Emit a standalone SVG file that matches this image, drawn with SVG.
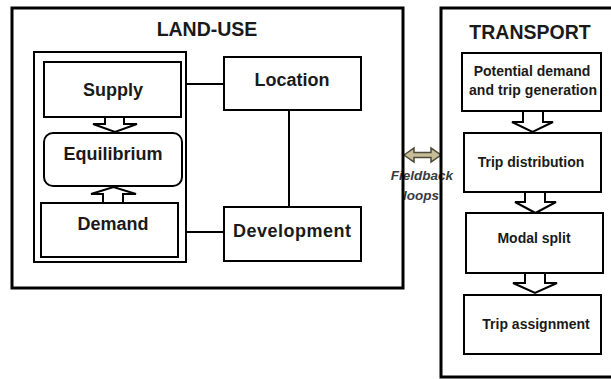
<svg xmlns="http://www.w3.org/2000/svg" width="611" height="379" viewBox="0 0 611 379">
<style>
text{font-family:"Liberation Sans",Arial,sans-serif;font-weight:bold;fill:#1a1a1a;text-anchor:middle}
.frame{fill:none;stroke:#000;stroke-width:3}
.box{fill:#fff;stroke:#000;stroke-width:2}
.line{fill:none;stroke:#000;stroke-width:2}
.barrow{fill:#fff;stroke:#000;stroke-width:2;stroke-linejoin:miter}
.title{font-size:19.5px}
.lbl{font-size:18px}
.tl{font-size:14px}
.fb{font-size:13.5px;font-style:italic;fill:#3a3a3a}
</style>
<rect x="0" y="0" width="611" height="379" fill="#fff"/>
<g id="feedback-label">
<text class="fb" x="422" y="180">Fieldback</text>
<text class="fb" x="421" y="200">loops</text>
</g>
<g id="connectors">
<line class="line" x1="186" y1="84" x2="224" y2="84"/>
<line class="line" x1="186" y1="232" x2="224" y2="232"/>
<line class="line" x1="289" y1="110" x2="289" y2="207"/>
<polygon class="barrow" points="105,117 105,124 93,124 115,132 137,124 124,124 124,117"/>
<polygon class="barrow" points="103,203 103,194 91,194 113.5,187 136,194 123,194 123,203"/>
<polygon class="barrow" points="523,111 523,122 512,122 532.5,132 553,122 543,122 543,111"/>
<polygon class="barrow" points="525,192 525,202 515,202 535.5,213 556,202 545,202 545,192"/>
<polygon class="barrow" points="525,273 525,283 513,283 535,293 557,283 545,283 545,273"/>
<polygon points="404,155 414,148 414,152.5 431,152.5 431,148 441,155 431,162 431,157.5 414,157.5 414,162" fill="#c4bd97" stroke="#4d4a38" stroke-width="1.5"/>
</g>
<g id="land-use">
<rect class="frame" x="12" y="8" width="391" height="280"/>
<text class="title" x="207" y="36">LAND-USE</text>
</g>
<g id="market">
<rect class="line" x="34" y="52" width="152" height="210"/>
</g>
<g id="supply">
<rect class="box" x="44" y="62" width="137" height="55"/>
<text class="lbl" x="113" y="96">Supply</text>
</g>
<g id="equilibrium">
<rect class="box" x="44" y="133" width="138" height="53" rx="9"/>
<text class="lbl" x="113" y="160">Equilibrium</text>
</g>
<g id="demand">
<rect class="box" x="41" y="203" width="137" height="54"/>
<text class="lbl" x="113" y="230">Demand</text>
</g>
<g id="location">
<rect class="box" x="224" y="57" width="137" height="53"/>
<text class="lbl" x="292" y="86">Location</text>
</g>
<g id="development">
<rect class="box" x="224" y="207" width="137" height="54"/>
<text class="lbl" x="292" y="237" textLength="118">Development</text>
</g>
<g id="transport">
<rect class="frame" x="441" y="8" width="173" height="369"/>
<text class="title" x="530" y="39">TRANSPORT</text>
</g>
<g id="trip-generation">
<rect class="box" x="462" y="53" width="139" height="58"/>
<text class="tl" x="532" y="76">Potential demand</text>
<text class="tl" x="533" y="95" textLength="128">and trip generation</text>
</g>
<g id="trip-distribution">
<rect class="box" x="464" y="133" width="137" height="59"/>
<text class="tl" x="531" y="167">Trip distribution</text>
</g>
<g id="modal-split">
<rect class="box" x="466" y="213" width="137" height="60"/>
<text class="tl" x="534" y="243">Modal split</text>
</g>
<g id="trip-assignment">
<rect class="box" x="464" y="295" width="137" height="59"/>
<text class="tl" x="536" y="329">Trip assignment</text>
</g>
</svg>
